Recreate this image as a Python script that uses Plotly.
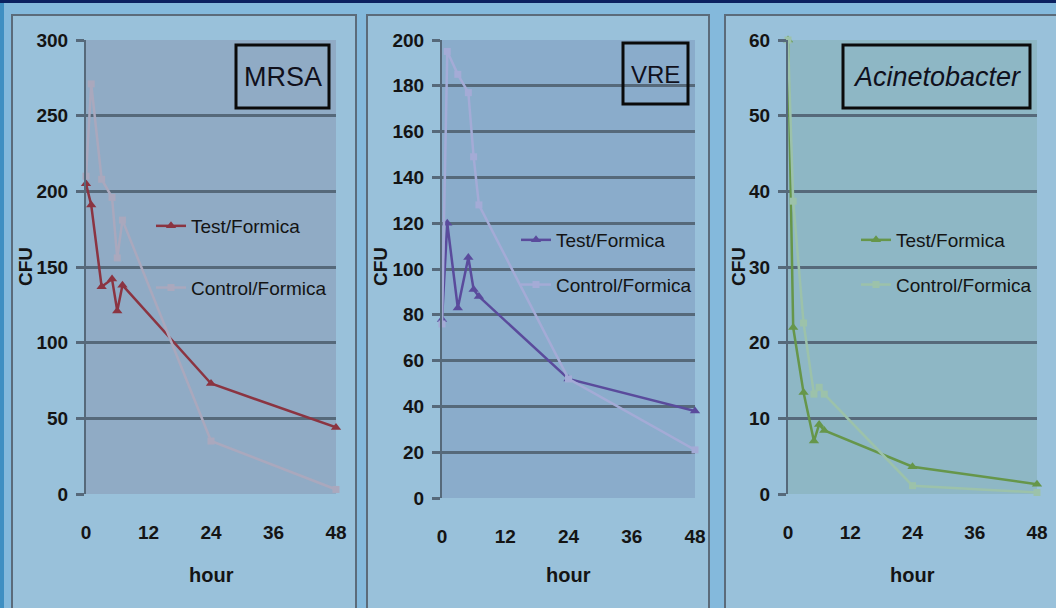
import plotly.graph_objects as go

# Sampling times (hours) shared by every panel
hours = [0, 1, 3, 5, 6, 7, 24, 48]
x_ticks = [0, 12, 24, 36, 48]

# Colony counts (CFU) per organism
mrsa_test = [205, 191, 137, 142, 121, 138, 73, 44]
mrsa_control = [210, 271, 208, 196, 156, 181, 35, 3]
vre_test = [78, 120, 83, 105, 91, 88, 52, 38]
vre_control = [76, 195, 185, 177, 149, 128, 52, 21]
acin_test = [60, 22, 13.4, 7, 9.2, 8.4, 3.6, 1.3]
acin_control = [60, 38.7, 22.6, 13.2, 14.1, 13.2, 1.1, 0.2]

organisms = ["MRSA", "VRE", "<i>Acinetobacter</i>"]
series_names = ["Test/Formica", "Control/Formica"]
y_max = [300, 200, 60]
y_step = [50, 20, 10]

W, H = 1056, 608
FONT = "Liberation Sans Narrow, Arial Narrow, Liberation Sans, Arial, sans-serif"
GRID = "#56697a"
INK = "#141414"

# pixel geometry of each plotting area: (left, right, top, bottom)
areas = [(86, 336, 40, 494), (442, 695, 40, 498), (788, 1037, 40, 494)]
panels = [(12, 356), (367, 709), (725, 1070)]
area_fill = ["#90abc5", "#8aaccb", "#8eb7c5"]
test_colors = ["#8b3441", "#5a4b9c", "#66964a"]
control_colors = ["#aaa8bd", "#a4abd6", "#9cc2aa"]
title_boxes = [(236, 329, 45, 108), (623, 688, 43, 104), (843, 1030, 45, 108)]
title_sizes = [27, 24, 27]
legend_pos = [(151, 207), (516, 221), (856, 221)]
legend_gap = [34, 17, 17]

data = [(mrsa_test, mrsa_control), (vre_test, vre_control), (acin_test, acin_control)]


def px(x):
    return x / W


def py(y):
    return 1 - y / H


fig = go.Figure()
shapes = []
annotations = []

# page decorations
shapes.append(dict(type="rect", xref="paper", yref="paper", x0=0, x1=1, y0=py(3), y1=1.01,
                   fillcolor="#0b2160", line_width=0, layer="below"))
shapes.append(dict(type="rect", xref="paper", yref="paper", x0=-0.01, x1=px(4), y0=-0.01, y1=py(3),
                   fillcolor="#3f8fc2", line_width=0, layer="below"))

for i in range(3):
    n = "" if i == 0 else str(i + 1)
    left, right, top, bottom = areas[i]
    pl, pr = panels[i]
    shapes.append(dict(type="rect", xref="paper", yref="paper", x0=px(pl), x1=px(pr),
                       y0=py(640), y1=py(15), fillcolor="#99c1da",
                       line=dict(color="#5b6b7a", width=2), layer="below"))
    shapes.append(dict(type="rect", xref="x%s domain" % n, yref="y%s domain" % n,
                       x0=0, x1=1, y0=0, y1=1, fillcolor=area_fill[i], line_width=0, layer="below"))

    test, control = data[i]
    legend_id = "legend" + n
    fig.add_trace(go.Scatter(
        x=hours, y=test, name=series_names[0], mode="lines+markers",
        line=dict(color=test_colors[i], width=2.5),
        marker=dict(symbol="triangle-up", size=9, color=test_colors[i]),
        xaxis="x" + n, yaxis="y" + n, legend=legend_id, legendgroup="t%d" % i,
        cliponaxis=False))
    fig.add_trace(go.Scatter(
        x=hours, y=control, name=series_names[1], mode="lines+markers",
        line=dict(color=control_colors[i], width=2.5),
        marker=dict(symbol="square", size=7, color=control_colors[i]),
        xaxis="x" + n, yaxis="y" + n, legend=legend_id, legendgroup="c%d" % i,
        cliponaxis=False))

    tick_font = dict(family=FONT, size=19, color=INK, weight="bold")
    fig.update_layout(**{
        "xaxis" + n: dict(domain=[px(left), px(right)], range=[0, 48], tickvals=x_ticks,
                          showgrid=False, zeroline=False, showline=False, ticks="",
                          ticklabelstandoff=25, anchor="y" + n, fixedrange=True,
                          automargin=False, tickfont=tick_font),
        "yaxis" + n: dict(domain=[py(bottom), py(top)], range=[0, y_max[i]], dtick=y_step[i],
                          showgrid=True, gridcolor=GRID, gridwidth=3, zeroline=False,
                          showline=True, linecolor=GRID, linewidth=2,
                          ticks="outside", ticklen=8, tickwidth=3, tickcolor=GRID,
                          ticklabelstandoff=4, anchor="x" + n, fixedrange=True,
                          automargin=False, tickfont=tick_font),
        legend_id: dict(x=px(legend_pos[i][0]), y=py(legend_pos[i][1]), xanchor="left", yanchor="top",
                        bgcolor="rgba(0,0,0,0)", tracegroupgap=legend_gap[i], traceorder="grouped",
                        font=dict(family=FONT, size=19, color=INK), itemwidth=30),
    })

    # axis titles
    annotations.append(dict(text="hour", xref="paper", yref="paper", x=px((left + right) / 2),
                            y=py(575), xanchor="center", yanchor="middle", showarrow=False,
                            font=dict(family=FONT, size=20, color=INK, weight="bold")))
    annotations.append(dict(text="CFU", xref="paper", yref="paper", x=px(pl + 13), y=py(267),
                            xanchor="center", yanchor="middle", textangle=-90, showarrow=False,
                            font=dict(family=FONT, size=19, color=INK, weight="bold")))

    # organism label box
    bx0, bx1, by0, by1 = title_boxes[i]
    shapes.append(dict(type="rect", xref="paper", yref="paper", x0=px(bx0), x1=px(bx1),
                       y0=py(by1), y1=py(by0), line=dict(color="#0a0a0a", width=3)))
    annotations.append(dict(text=organisms[i], xref="paper", yref="paper",
                            x=px((bx0 + bx1) / 2), y=py((by0 + by1) / 2 + 1),
                            xanchor="center", yanchor="middle", showarrow=False,
                            font=dict(family=FONT, size=title_sizes[i], color="#10101c")))

fig.update_layout(
    width=W, height=H, margin=dict(l=0, r=0, t=0, b=0, autoexpand=False),
    paper_bgcolor="#84b9dc", plot_bgcolor="rgba(0,0,0,0)",
    shapes=shapes, annotations=annotations, showlegend=True,
)

fig.write_html("out.html", config={"displayModeBar": False})
